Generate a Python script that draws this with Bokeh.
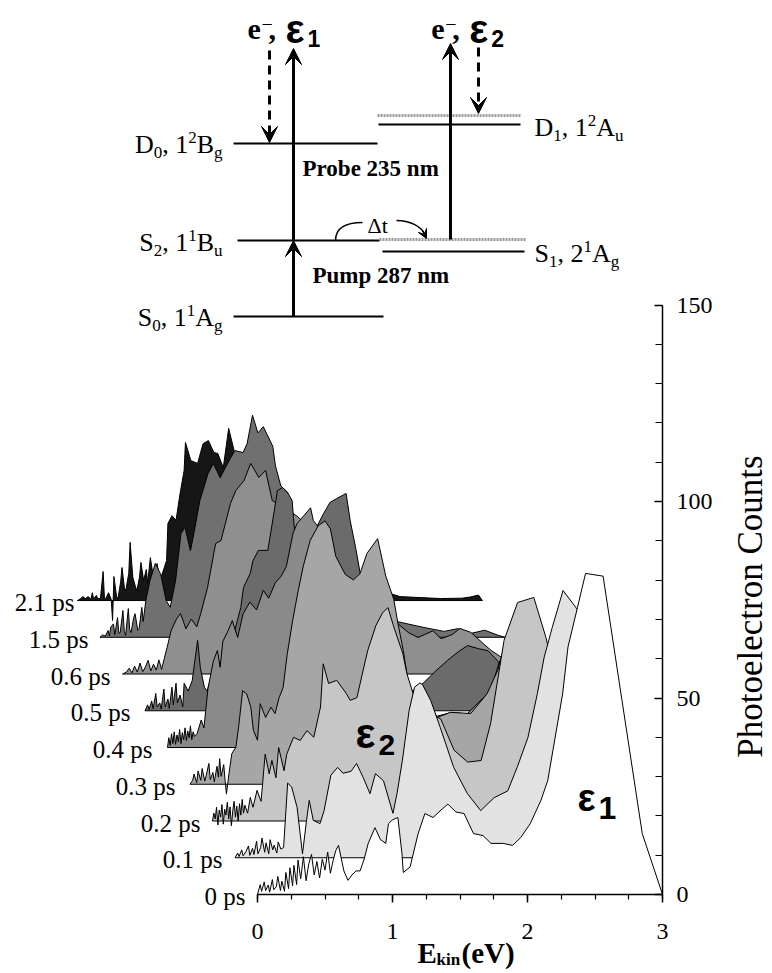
import math
from bokeh.plotting import figure
from bokeh.models import Range1d, FixedTicker, Arrow, VeeHead
from bokeh.core.properties import value
from bokeh.embed import file_html
from bokeh.resources import INLINE

# ---------------- data ----------------
DELAY_LABELS = ["0 ps", "0.1 ps", "0.2 ps", "0.3 ps", "0.4 ps", "0.5 ps", "0.6 ps", "1.5 ps", "2.1 ps"]

# (kinetic energy / eV, photoelectron counts) for each delay, relative to its own baseline
SPEC_0PS = [(0.00,0),(0.02,2.5),(0.03,0.8),(0.05,3.2),(0.06,1.0),(0.08,2.4),(0.09,0.6),(0.11,3.8),(0.12,1.2),
            (0.14,2.0),(0.15,4.6),(0.17,1.0),(0.18,3.4),(0.20,0.8),(0.21,5.6),(0.23,1.5),(0.24,6.8),(0.26,2.2),
            (0.27,7.4),(0.29,2.5),(0.30,8.8),(0.32,4.0),(0.34,9.6),(0.36,3.5),(0.38,7.8),(0.40,10.2),(0.42,5.0),
            (0.44,8.4),(0.46,4.2),(0.48,9.0),(0.50,6.2),(0.52,10.8),(0.54,5.4),(0.56,8.6),(0.58,11.2),(0.60,12.5),
            (0.64,6.0),(0.67,3.6),(0.70,5.0),(0.73,6.0),(0.76,6.0),(0.79,9.0),(0.82,13.0),(0.87,17.0),(0.91,14.0),
            (0.95,13.0),(0.97,18.0),(1.00,19.0),(1.04,19.6),(1.07,10.4),(1.08,5.6),(1.13,7.0),(1.19,15.5),
            (1.24,20.6),(1.30,19.6),(1.36,21.5),(1.41,23.0),(1.47,21.0),(1.53,20.6),(1.60,15.5),(1.67,15.0),
            (1.73,13.0),(1.82,13.0),(1.89,12.5),(1.95,14.5),(2.02,18.0),(2.10,24.0),(2.15,29.0),(2.19,37.0),
            (2.26,51.0),(2.30,63.0),(2.37,73.0),(2.43,81.7),(2.56,81.0),(2.85,15.5),(3.00,0)]
SPEC_01PS = [(0.00,0),(0.02,1.2),(0.03,0.3),(0.05,2.0),(0.06,0.5),(0.08,1.5),(0.10,3.0),(0.11,0.6),(0.13,2.4),
             (0.14,0.8),(0.16,4.2),(0.17,1.0),(0.19,2.6),(0.20,5.0),(0.22,1.4),(0.23,3.8),(0.25,1.0),(0.26,4.6),
             (0.28,2.0),(0.29,3.2),(0.31,1.2),(0.32,4.0),(0.34,2.2),(0.36,2.6),(0.39,19.0),(0.42,18.0),(0.46,12.8),
             (0.50,1.0),(0.53,9.5),(0.55,14.6),(0.58,9.5),(0.63,8.7),(0.66,12.0),(0.71,21.0),(0.76,23.0),(0.80,21.5),
             (0.86,22.0),(0.90,24.0),(0.95,20.4),(1.00,16.3),(1.04,21.4),(1.10,19.6),(1.17,11.3),(1.20,16.3),
             (1.24,24.8),(1.29,37.5),(1.33,43.4),(1.37,44.5),(1.39,44.0),(1.45,40.0),(1.52,33.2),(1.62,23.0),
             (1.72,16.4),(1.82,12.0),(1.92,15.3),(2.02,17.0),(2.09,23.0),(2.17,30.6),(2.24,41.8),(2.29,51.0),
             (2.35,58.6),(2.43,68.0),(2.54,63.0),(2.71,35.0),(2.93,9.0),(3.00,0)]
SPEC_02PS = [(0.00,0),(0.01,2.0),(0.02,0.5),(0.03,3.5),(0.04,-1.0),(0.05,2.8),(0.06,1.0),(0.07,4.2),(0.08,-0.8),
             (0.09,3.0),(0.10,1.5),(0.11,4.8),(0.12,0.5),(0.13,3.6),(0.14,-1.2),(0.15,2.5),(0.16,5.0),(0.17,1.0),
             (0.18,3.8),(0.19,0.0),(0.20,4.4),(0.21,1.5),(0.22,5.5),(0.23,2.0),(0.24,4.0),(0.26,2.0),(0.28,6.0),
             (0.30,3.5),(0.33,7.8),(0.36,5.0),(0.39,17.0),(0.42,12.0),(0.44,15.4),(0.47,11.0),(0.49,18.7),
             (0.53,12.8),(0.55,17.0),(0.60,21.3),(0.65,20.5),(0.70,23.0),(0.75,21.3),(0.80,29.0),(0.82,40.0),
             (0.86,35.0),(0.92,35.8),(0.99,32.5),(1.02,30.7),(1.07,31.4),(1.12,39.0),(1.15,43.4),(1.21,49.7),
             (1.26,53.0),(1.30,54.3),(1.34,49.7),(1.41,42.6),(1.44,37.5),(1.49,32.0),(1.56,28.0),(1.62,27.0),
             (1.69,26.0),(1.79,18.0),(1.89,15.0),(1.99,15.4),(2.06,24.8),(2.16,46.0),(2.26,55.6),(2.38,56.9),
             (2.47,46.7),(2.58,30.0),(2.73,10.0),(3.00,0)]
SPEC_03PS = [(0.00,0),(0.02,1.0),(0.03,2.6),(0.05,0.4),(0.06,3.4),(0.08,1.0),(0.09,4.0),(0.11,0.8),(0.12,2.2),
             (0.14,5.3),(0.15,1.2),(0.17,3.0),(0.18,0.6),(0.20,4.6),(0.21,1.8),(0.22,6.5),(0.23,2.0),(0.25,5.0),
             (0.26,1.0),(0.27,-2.5),(0.29,3.0),(0.31,7.8),(0.34,9.4),(0.36,14.5),(0.39,23.8),(0.42,23.0),
             (0.45,19.7),(0.47,13.7),(0.50,11.2),(0.52,20.5),(0.56,17.0),(0.60,19.6),(0.63,18.0),(0.66,22.0),
             (0.69,24.6),(0.72,33.0),(0.76,41.6),(0.80,49.0),(0.84,55.6),(0.89,62.0),(0.95,65.8),(1.00,67.0),
             (1.04,65.0),(1.08,58.0),(1.15,53.4),(1.21,52.0),(1.26,53.6),(1.31,58.7),(1.39,62.5),(1.45,53.0),
             (1.51,47.0),(1.54,41.0),(1.58,34.0),(1.63,23.0),(1.70,20.0),(1.83,17.0),(1.93,18.3),(2.08,18.0),
             (2.20,23.0),(2.28,29.0),(2.34,36.6),(2.45,41.6),(2.56,39.0),(2.70,23.8),(2.89,6.0),(3.00,0)]
SPEC_04PS = [(0.00,0),(0.01,2.5),(0.02,0.5),(0.03,3.5),(0.04,1.0),(0.05,4.0),(0.06,0.8),(0.07,3.2),(0.08,1.5),
             (0.09,4.6),(0.10,1.0),(0.11,3.8),(0.12,2.0),(0.13,5.0),(0.14,1.8),(0.15,4.2),(0.16,2.5),(0.17,5.5),
             (0.18,2.0),(0.19,4.0),(0.20,2.8),(0.22,3.6),(0.25,7.0),(0.27,5.0),(0.30,15.0),(0.34,22.0),(0.37,24.7),
             (0.39,20.4),(0.41,27.0),(0.45,29.8),(0.48,32.3),(0.52,28.0),(0.56,34.0),(0.61,37.0),(0.66,35.0),
             (0.71,40.0),(0.75,38.0),(0.80,42.0),(0.84,43.5),(0.88,46.0),(0.93,54.5),(0.96,57.0),(1.01,59.0),
             (1.06,61.0),(1.08,57.8),(1.12,56.0),(1.18,50.0),(1.25,46.0),(1.32,43.0),(1.40,41.0),(1.50,37.0),
             (1.60,30.0),(1.70,22.0),(1.80,15.0),(1.90,10.0),(2.00,8.0),(2.10,8.9),(2.22,8.6),(2.32,12.0),
             (2.37,13.7),(2.41,16.3),(2.46,22.0),(2.52,24.0),(2.62,19.0),(2.76,10.0),(2.90,3.0),(3.00,0)]
SPEC_05PS = [(0.00,0),(0.02,1.5),(0.03,0.3),(0.05,2.5),(0.06,0.5),(0.08,4.4),(0.09,1.0),(0.11,2.0),(0.12,0.4),
             (0.14,5.5),(0.15,1.0),(0.17,3.0),(0.18,0.6),(0.20,6.0),(0.21,1.5),(0.23,7.0),(0.24,2.0),(0.26,4.0),
             (0.28,1.0),(0.29,7.0),(0.32,5.0),(0.35,7.7),(0.39,17.9),(0.41,11.0),(0.44,6.0),(0.46,5.0),(0.51,11.0),
             (0.54,12.8),(0.58,11.0),(0.62,15.0),(0.66,19.7),(0.71,26.3),(0.73,31.4),(0.78,35.0),(0.80,38.2),
             (0.84,40.8),(0.91,40.8),(0.93,45.0),(0.97,53.5),(0.98,56.0),(1.02,56.8),(1.06,55.3),(1.09,53.5),
             (1.11,45.0),(1.18,42.0),(1.26,46.0),(1.32,50.0),(1.37,53.0),(1.42,54.0),(1.49,55.3),(1.52,48.4),
             (1.56,41.6),(1.62,30.0),(1.72,20.0),(1.82,13.0),(1.92,8.0),(1.98,5.0),(2.06,7.0),(2.15,10.0),
             (2.24,12.8),(2.32,15.0),(2.39,16.6),(2.47,15.8),(2.54,15.3),(2.61,12.8),(2.78,5.0),(3.00,0)]
SPEC_06PS = [(0.00,0),(0.03,0.5),(0.05,1.5),(0.07,0.3),(0.09,2.0),(0.11,0.5),(0.13,2.8),(0.15,0.6),(0.17,1.8),
             (0.19,3.5),(0.21,0.8),(0.23,2.5),(0.25,1.0),(0.27,3.6),(0.29,1.2),(0.31,4.0),(0.33,6.7),(0.36,11.0),
             (0.40,14.0),(0.43,15.4),(0.47,11.5),(0.51,14.0),(0.55,12.0),(0.58,15.4),(0.63,22.0),(0.69,33.2),
             (0.73,34.0),(0.80,43.4),(0.84,46.7),(0.90,49.2),(0.95,53.6),(1.01,50.0),(1.06,51.8),(1.11,44.1),
             (1.17,43.0),(1.30,40.0),(1.50,33.0),(1.70,25.0),(1.85,18.0),(1.95,14.0),(2.04,12.8),(2.12,10.5),
             (2.19,9.3),(2.30,11.0),(2.36,9.0),(2.44,10.0),(2.50,11.6),(2.58,10.6),(2.73,6.0),(3.00,0)]
SPEC_15PS = [(0.00,0),(0.02,0.6),(0.04,0.3),(0.06,1.7),(0.07,0.4),(0.08,2.6),(0.10,3.4),(0.11,0.6),(0.13,5.0),
             (0.14,1.0),(0.15,1.2),(0.17,6.8),(0.18,1.5),(0.19,0.5),(0.21,7.3),(0.22,2.0),(0.23,1.2),(0.25,5.0),
             (0.26,6.0),(0.28,1.8),(0.29,2.2),(0.31,7.6),(0.32,4.0),(0.34,9.4),(0.37,14.4),(0.41,18.8),(0.45,16.0),
             (0.49,9.4),(0.52,7.6),(0.56,14.4),(0.60,26.4),(0.63,28.0),(0.67,22.0),(0.69,25.4),(0.74,34.8),
             (0.80,41.6),(0.84,44.2),(0.89,40.6),(0.93,43.2),(0.97,45.8),(1.00,47.5),(1.06,47.0),(1.09,49.3),
             (1.13,56.5),(1.17,52.0),(1.21,53.6),(1.28,48.6),(1.30,43.6),(1.34,38.5),(1.39,36.9),(1.43,28.0),
             (1.60,20.0),(1.80,12.0),(2.00,7.0),(2.20,4.0),(2.40,2.5),(2.55,1.5),(2.65,2.2),(2.75,1.0),(2.85,1.8),
             (2.95,0.5),(3.00,0)]
SPEC_21PS = [(0.00,0),(0.02,0.4),(0.04,1.0),(0.06,0.5),(0.08,1.0),(0.10,0.3),(0.11,2.0),(0.12,0.4),(0.14,1.3),
             (0.15,0.5),(0.17,0.5),(0.19,7.4),(0.20,0.5),(0.21,0.5),(0.23,2.0),(0.25,0.3),(0.26,-5.1),(0.27,6.1),
             (0.29,1.0),(0.30,0.5),(0.32,4.8),(0.33,8.4),(0.35,2.5),(0.36,3.0),(0.38,6.9),(0.39,14.8),(0.41,5.9),
             (0.43,3.5),(0.44,2.5),(0.46,6.0),(0.47,9.7),(0.49,5.1),(0.51,7.9),(0.52,4.5),(0.54,10.9),(0.56,6.4),
             (0.57,8.0),(0.59,9.4),(0.61,5.1),(0.63,7.0),(0.66,10.2),(0.67,19.6),(0.70,21.6),(0.73,20.4),
             (0.76,27.2),(0.79,33.1),(0.80,40.2),(0.84,35.6),(0.89,34.9),(0.93,39.9),(0.97,40.7),(1.01,37.7),
             (1.04,37.4),(1.08,33.8),(1.12,43.8),(1.16,38.2),(1.28,33.0),(1.50,23.0),(1.80,10.0),(2.10,4.0),
             (2.39,1.0),(2.69,0.5),(2.85,0.6),(2.91,0.9),(2.97,1.4),(3.00,0)]
SPECTRA = [SPEC_0PS, SPEC_01PS, SPEC_02PS, SPEC_03PS, SPEC_04PS, SPEC_05PS, SPEC_06PS, SPEC_15PS, SPEC_21PS]

X_TICKS = [0, 1, 2, 3]
X_MINOR = [0.25 * i for i in range(13)]
Y_TICKS = [0, 50, 100, 150]
Y_MINOR = list(range(0, 151, 10))
STEP_E = -0.1667   # waterfall shift in energy per trace
STEP_C = 9.35      # waterfall shift in counts per trace

# ---------------- layout / style ----------------
W_PX, H_PX = 770, 971
PXE, PXC = 135.0, 3.93       # pixels per eV, pixels per count
GX0, GY0 = 257.0, 894.0      # picture position of (0 eV, 0 counts)
def X(gx): return (gx - GX0) / PXE
def Y(gy): return (GY0 - gy) / PXC

SERIF = "Liberation Serif"
SANS = "Liberation Sans"
FILLS = ["#ffffff", "#e2e2e2", "#c6c6c6", "#a6a6a6", "#8a8a8a", "#6b6b6b", "#8f8f8f", "#707070", "#161616"]
LABEL_GAP = [12, 12.5, 12, 14.5, 15, 14.5, 12, 11.5, 3]

p = figure(width=W_PX, height=H_PX, x_range=Range1d(X(0), X(W_PX)), y_range=Range1d(Y(H_PX), Y(0)),
           output_backend="svg", toolbar_location=None, y_axis_location="right", title=None,
           min_border_left=0, min_border_top=0, min_border_right=0, min_border_bottom=0)
p.grid.visible = False
p.outline_line_color = None
p.background_fill_color = "white"
p.border_fill_color = "white"

xa = p.xaxis[0]
xa.fixed_location = 0
xa.bounds = (0, 3)
xa.ticker = FixedTicker(ticks=X_TICKS, minor_ticks=X_MINOR)
xa.major_tick_out = 8; xa.major_tick_in = 0
xa.minor_tick_out = 5; xa.minor_tick_in = 0
xa.major_label_standoff = 21
ya = p.yaxis[0]
ya.fixed_location = 3.0
ya.bounds = (0, 150)
ya.ticker = FixedTicker(ticks=Y_TICKS, minor_ticks=Y_MINOR)
ya.major_tick_in = 8; ya.major_tick_out = 0
ya.minor_tick_in = 7; ya.minor_tick_out = 0
ya.major_label_standoff = 14
for ax in (xa, ya):
    ax.axis_line_color = "black"; ax.axis_line_width = 1.5
    ax.major_tick_line_color = "black"; ax.major_tick_line_width = 1.5
    ax.minor_tick_line_color = "black"; ax.minor_tick_line_width = 1.2
    ax.major_label_text_font = SERIF
    ax.major_label_text_font_size = "24px"
    ax.major_label_text_color = "black"

# ---------------- waterfall ----------------
for k in reversed(range(len(SPECTRA))):
    e, c = zip(*SPECTRA[k])
    ox, oy = k * STEP_E, k * STEP_C
    p.patch([v + ox for v in e], [v + oy for v in c], fill_color=FILLS[k],
            line_color="black", line_width=1)
for k, lab in enumerate(DELAY_LABELS):
    ox, oy = k * STEP_E, k * STEP_C
    p.text(x=[ox - LABEL_GAP[k] / PXE], y=[oy - 2 / PXC], text=[lab], text_align="right",
           text_baseline="middle", text_font=value(SERIF), text_font_size="25px", text_color="black")

def txt(gx, gy, s, size, bold=False, font=SERIF, align="left"):
    """gy is the wanted baseline (picture px); anchored via the text middle."""
    p.text(x=[X(gx)], y=[Y(gy - 0.34 * size)], text=[s], text_font=value(font), text_font_size=f"{size}px",
           text_font_style="bold" if bold else "normal", text_align=align,
           text_baseline="middle", text_color="black")

# epsilon labels inside the plot
txt(355, 747, "ε", 42, True, SANS); txt(378, 755, "2", 30, True, SANS)
txt(577, 810, "ε", 38, True, SANS); txt(598, 818, "1", 32, True, SANS)

# ---------------- energy level diagram ----------------
W = {'D': .722, 'S': .556, 'A': .722, 'B': .667, ',': .25, ' ': .25, '0': .5, '1': .5, '2': .5, 'g': .5, 'u': .5}
def state(gx, gy, sym, sub, n, sup, term, tsub, right=False):
    big, small = 26, 17
    segs = [(sym, big, 0), (sub, small, 5), (", " + n, big, 0), (sup, small, -10), (term, big, 0), (tsub, small, 5)]
    total = sum(sum(W.get(ch, .5) for ch in t) * s for t, s, _ in segs)
    x = gx - total if right else gx
    for t, s, dy in segs:
        txt(x, gy + dy, t, s)
        x += sum(W.get(ch, .5) for ch in t) * s

D0_Y, S2_Y, S0_Y = 143, 240, 316
p.segment(x0=[X(233), X(237), X(233), X(378), X(382)], y0=[Y(D0_Y), Y(S2_Y), Y(S0_Y), Y(124), Y(251)],
          x1=[X(377), X(379), X(383), X(520), X(524)], y1=[Y(D0_Y), Y(S2_Y), Y(S0_Y), Y(124), Y(251)],
          line_color="black", line_width=2)
p.segment(x0=[X(377), X(379)], y0=[Y(115), Y(239)], x1=[X(520), X(526)], y1=[Y(115), Y(239)],
          line_color="#9a9a9a", line_width=3, line_dash="2 1")

state(222, 153, "D", "0", "1", "2", "B", "g", right=True)
state(222, 251, "S", "2", "1", "1", "B", "u", right=True)
state(222, 326, "S", "0", "1", "1", "A", "g", right=True)
state(534, 136, "D", "1", "1", "2", "A", "u")
state(534, 262, "S", "1", "2", "1", "A", "g")
txt(302, 176, "Probe 235 nm", 23, True)
txt(312, 283, "Pump 287 nm", 23, True)
txt(367, 232, "Δt", 22)

def arrow(gx0, gy0, gx1, gy1, dash="solid", size=16, lw=3):
    p.add_layout(Arrow(end=VeeHead(size=size, fill_color="black", line_color="black", line_width=1),
                       x_start=X(gx0), y_start=Y(gy0), x_end=X(gx1), y_end=Y(gy1),
                       line_width=lw, line_color="black", line_dash=dash))

arrow(293, S0_Y, 293, S2_Y)
arrow(293, S2_Y, 293, 48)
arrow(269, 50, 269, 142, dash="9 6")
arrow(450, 239, 450, 43)
arrow(478, 47, 478, 113, dash="9 6")

p.bezier(x0=[X(335)], y0=[Y(240)], cx0=[X(335)], cy0=[Y(228)], cx1=[X(345)], cy1=[Y(222)],
         x1=[X(362)], y1=[Y(222)], line_color="black", line_width=1.5)
p.bezier(x0=[X(396)], y0=[Y(220)], cx0=[X(410)], cy0=[Y(220)], cx1=[X(420)], cy1=[Y(226)],
         x1=[X(424)], y1=[Y(233)], line_color="black", line_width=1.5)
arrow(422, 230, 426, 238, size=9, lw=1.5)

for dx, n in ((0, "1"), (183.7, "2")):
    txt(247 + dx, 39, "e", 30, True)
    txt(261 + dx, 30, "−", 20)
    txt(268 + dx, 39, ",", 30, True)
    txt(285 + dx, 42, "ε", 40, True, SANS)
    txt(307 + dx, 46, n, 23, True, SANS)

# ---------------- axis titles ----------------
p.text(x=[X(750)], y=[Y(606)], text=["Photoelectron Counts"], angle=math.pi / 2, text_align="center",
       text_baseline="middle", text_font=value(SERIF), text_font_size="35px", text_color="black")
txt(417, 962, "E", 29, True)
txt(436, 965, "kin", 17, True)
txt(461, 962, "(eV)", 29, True)

open("out.html", "w").write(file_html(p, INLINE))
